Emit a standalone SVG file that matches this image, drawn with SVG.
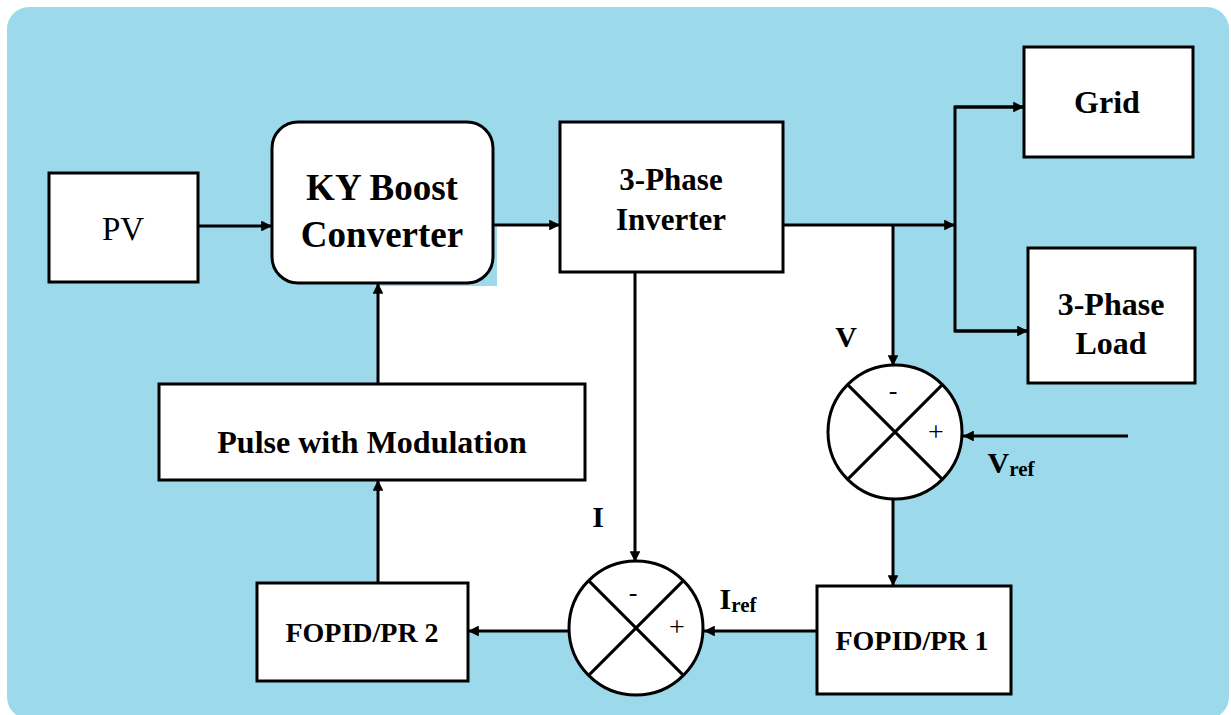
<svg xmlns="http://www.w3.org/2000/svg" width="1231" height="715" viewBox="0 0 1231 715">
<defs>
<style>
.box{fill:#fff;stroke:#000;stroke-width:3}
.ln{fill:none;stroke:#000;stroke-width:3}
.t{font-family:"Liberation Serif","Times New Roman",serif;font-weight:bold;fill:#000;text-anchor:middle}
.s{font-family:"Liberation Serif","Times New Roman",serif;fill:#000;text-anchor:middle}
</style>
<marker id="arr" viewBox="0 0 10 10" refX="10" refY="5" markerWidth="4.2" markerHeight="3.6" markerUnits="strokeWidth" orient="auto">
<path d="M0,0 L10,5 L0,10 z" fill="#000"/>
</marker>
</defs>
<rect width="1231" height="715" fill="#fff"/>
<rect x="7" y="7" width="1222" height="712" rx="22" fill="#9cd9ea"/>
<polygon points="493,225 893,225 893,586 817,586 817,631 468,631 468,583 378,583 378,286 497,286 497,227 493,227" fill="#fff"/>

<g id="connectors">
<line class="ln" x1="198" y1="226" x2="272" y2="226" marker-end="url(#arr)"/>
<line class="ln" x1="493" y1="225" x2="560" y2="225" marker-end="url(#arr)"/>
<line class="ln" x1="783" y1="225" x2="955" y2="225" marker-end="url(#arr)"/>
<polyline class="ln" points="1024,107 955,107 955,331 1028,331" stroke-linejoin="miter"/>
<line class="ln" x1="955" y1="107" x2="1024" y2="107" marker-end="url(#arr)"/>
<line class="ln" x1="955" y1="331" x2="1028" y2="331" marker-end="url(#arr)"/>
<line class="ln" x1="893" y1="225" x2="893" y2="366" marker-end="url(#arr)"/>
<line class="ln" x1="1128" y1="436" x2="963" y2="436" marker-end="url(#arr)"/>
<line class="ln" x1="893" y1="498" x2="893" y2="586" marker-end="url(#arr)"/>
<line class="ln" x1="817" y1="631" x2="704" y2="631" marker-end="url(#arr)"/>
<line class="ln" x1="635" y1="272" x2="635" y2="562" marker-end="url(#arr)"/>
<line class="ln" x1="568" y1="631" x2="468" y2="631" marker-end="url(#arr)"/>
<line class="ln" x1="378" y1="583" x2="378" y2="480" marker-end="url(#arr)"/>
<line class="ln" x1="378" y1="384" x2="378" y2="283" marker-end="url(#arr)"/>
</g>

<g id="pv">
<rect class="box" x="49" y="173" width="149" height="109"/>
<text class="s" x="123" y="240" font-size="33">PV</text>
</g>
<g id="ky">
<rect class="box" x="272" y="122" width="221" height="161" rx="26"/>
<text class="t" x="382" y="200" font-size="37">KY Boost</text>
<text class="t" x="382" y="247" font-size="37">Converter</text>
</g>
<g id="inverter">
<rect class="box" x="560" y="122" width="223" height="150"/>
<text class="t" x="671" y="190" font-size="31">3-Phase</text>
<text class="t" x="671" y="230" font-size="31">Inverter</text>
</g>
<g id="grid">
<rect class="box" x="1024" y="47" width="169" height="110"/>
<text class="t" x="1107" y="113" font-size="32">Grid</text>
</g>
<g id="load">
<rect class="box" x="1028" y="248" width="167" height="135"/>
<text class="t" x="1111" y="315" font-size="32">3-Phase</text>
<text class="t" x="1111" y="354" font-size="32">Load</text>
</g>
<g id="pwm">
<rect class="box" x="159" y="384" width="426" height="96"/>
<text class="t" x="372" y="453" font-size="32">Pulse with Modulation</text>
</g>
<g id="fopid2">
<rect class="box" x="257" y="583" width="211" height="98"/>
<text class="t" x="362" y="642" font-size="28">FOPID/PR 2</text>
</g>
<g id="fopid1">
<rect class="box" x="817" y="586" width="194" height="108"/>
<text class="t" x="912" y="650" font-size="28">FOPID/PR 1</text>
</g>
<g id="sumV">
<circle class="box" cx="895" cy="432" r="67"/>
<line class="ln" x1="847.6" y1="384.6" x2="942.4" y2="479.4"/>
<line class="ln" x1="942.4" y1="384.6" x2="847.6" y2="479.4"/>
<text class="s" x="893" y="399" font-size="26">-</text>
<text class="s" x="936" y="441" font-size="28">+</text>
<text class="t" x="846" y="347" font-size="30">V</text>
<text class="t" x="1011" y="473" font-size="30">V<tspan font-size="21" dy="3">ref</tspan></text>
</g>
<g id="sumI">
<circle class="box" cx="636" cy="628" r="67"/>
<line class="ln" x1="588.6" y1="580.6" x2="683.4" y2="675.4"/>
<line class="ln" x1="683.4" y1="580.6" x2="588.6" y2="675.4"/>
<text class="s" x="633" y="601" font-size="26">-</text>
<text class="s" x="677" y="636" font-size="28">+</text>
<text class="t" x="598" y="527" font-size="30">I</text>
<text class="t" x="738" y="609" font-size="30">I<tspan font-size="21" dy="3">ref</tspan></text>
</g>
</svg>
